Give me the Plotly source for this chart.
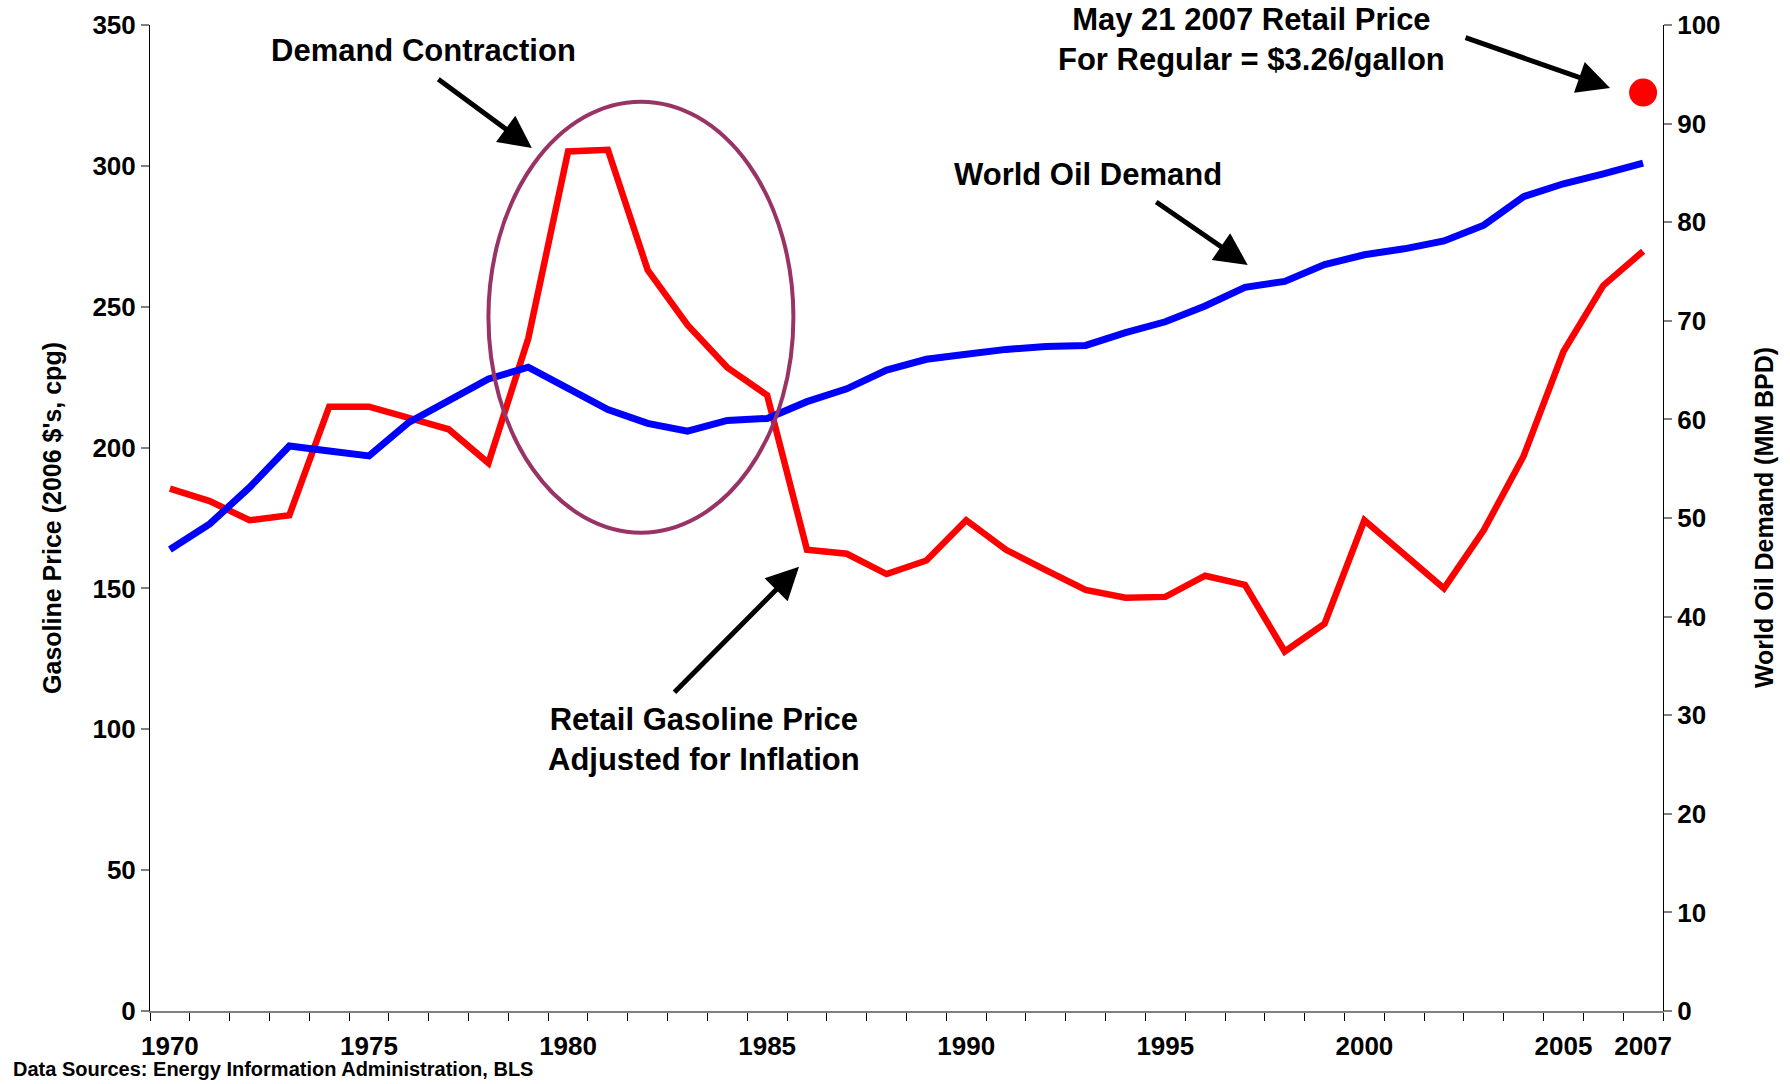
import plotly.graph_objects as go

years = list(range(1970, 2008))

gas_price = [185.4, 181.0, 174.2, 176.0, 214.5, 214.5, 210.5, 206.5, 194.5, 238.7,
             305.1, 305.7, 263.0, 243.5, 228.4, 218.6, 163.7, 162.3, 155.1, 159.9,
             174.2, 163.7, 156.5, 149.5, 146.7, 147.0, 154.5, 151.3, 127.6, 137.5,
             174.2, 162.3, 150.0, 170.7, 197.0, 234.1, 257.5, 269.7]

oil_demand = [46.8, 49.4, 53.1, 57.3, 56.8, 56.3, 59.7, 61.9, 64.1, 65.3,
              63.1, 61.0, 59.6, 58.8, 59.9, 60.1, 61.8, 63.1, 65.0, 66.1,
              66.6, 67.1, 67.4, 67.5, 68.8, 69.9, 71.5, 73.4, 74.0, 75.7,
              76.7, 77.3, 78.1, 79.7, 82.6, 83.9, 84.9, 86.0]

may2007_year = [2007]
may2007_price = [326]

label_years = [1970, 1975, 1980, 1985, 1990, 1995, 2000, 2005, 2007]
label_text = [str(y) for y in label_years]

left_ticks = [0, 50, 100, 150, 200, 250, 300, 350]
right_ticks = [0, 10, 20, 30, 40, 50, 60, 70, 80, 90, 100]

FONT = "Liberation Sans, Arial, sans-serif"

fig = go.Figure()

fig.add_trace(go.Scatter(x=years, y=gas_price, mode="lines",
                         line=dict(color="#FF0000", width=6.5), yaxis="y",
                         showlegend=False, hoverinfo="skip"))
fig.add_trace(go.Scatter(x=years, y=oil_demand, mode="lines",
                         line=dict(color="#0000FF", width=7), yaxis="y2",
                         showlegend=False, hoverinfo="skip"))
fig.add_trace(go.Scatter(x=may2007_year, y=may2007_price, mode="markers",
                         marker=dict(color="#FF0000", size=28), yaxis="y",
                         showlegend=False, hoverinfo="skip"))

boundaries = [y - 0.5 for y in years] + [years[-1] + 0.5]

fig.update_layout(
    width=1790, height=1084,
    margin=dict(l=150, r=127, t=25, b=73, autoexpand=False),
    paper_bgcolor="white", plot_bgcolor="white",
    font=dict(family=FONT, color="black"),
    xaxis=dict(
        range=[years[0] - 0.5, years[-1] + 0.5], automargin=False,
        tickmode="array", tickvals=label_years, ticktext=label_text,
        ticks="", showgrid=False, zeroline=False,
        showline=True, linecolor="#808080", linewidth=2,
        tickfont=dict(family=FONT, size=26, weight="bold", color="black"),
        ticklabelstandoff=11,
        minor=dict(tickmode="array", tickvals=boundaries, ticks="outside",
                   ticklen=8, tickcolor="black", tickwidth=1, showgrid=False),
    ),
    yaxis=dict(
        range=[0, 350], tickmode="array", tickvals=left_ticks, automargin=False,
        ticks="outside", ticklen=8, tickcolor="#808080", tickwidth=2,
        showgrid=False, zeroline=False,
        showline=True, linecolor="black", linewidth=1,
        tickfont=dict(family=FONT, size=26, weight="bold", color="black"),
    ),
    yaxis2=dict(
        range=[0, 100], tickmode="array", tickvals=right_ticks, automargin=False,
        overlaying="y", side="right",
        ticks="outside", ticklen=8, tickcolor="#808080", tickwidth=2,
        showgrid=False, zeroline=False,
        showline=True, linecolor="black", linewidth=1,
        tickfont=dict(family=FONT, size=26, weight="bold", color="black"),
    ),
)

# ellipse highlighting demand contraction
fig.add_shape(type="circle", xref="x", yref="y",
              x0=1978.0, x1=1985.66, y0=169.8, y1=322.8,
              line=dict(color="#993366", width=4), layer="above")

ann_font = dict(family=FONT, size=31, weight="bold", color="black")

# texts
fig.add_annotation(x=1976.37, y=341.1, xref="x", yref="y", text="Demand Contraction",
                   showarrow=False, font=ann_font, xanchor="center", yanchor="middle")
fig.add_annotation(x=1993.06, y=296.8, xref="x", yref="y", text="World Oil Demand",
                   showarrow=False, font=ann_font, xanchor="center", yanchor="middle")
fig.add_annotation(x=1983.41, y=96.4, xref="x", yref="y",
                   text="Retail Gasoline Price<br>Adjusted for Inflation",
                   showarrow=False, font=ann_font, xanchor="center", yanchor="middle")
fig.add_annotation(x=1997.17, y=344.7, xref="x", yref="y",
                   text="May 21 2007 Retail Price<br>For Regular = $3.26/gallon",
                   showarrow=False, font=ann_font, xanchor="center", yanchor="middle")

# arrows
arrows = [
    (1979.09, 306.3, -95, -70),
    (1997.07, 264.8, -93, -64),
    (1985.80, 157.7, -126, 127),
    (2006.17, 327.6, -146, -51),
]
for hx, hy, ax, ay in arrows:
    fig.add_annotation(x=hx, y=hy, xref="x", yref="y", text="", showarrow=True,
                       ax=ax, ay=ay, arrowhead=2, arrowsize=1.3, arrowwidth=5,
                       arrowcolor="black", standoff=0)

# axis titles
fig.add_annotation(x=-0.0648, y=0.5, xref="paper", yref="paper",
                   text="Gasoline Price (2006 $'s, cpg)", textangle=-90,
                   showarrow=False, xanchor="center", yanchor="middle",
                   font=dict(family=FONT, size=25, weight="bold", color="black"))
fig.add_annotation(x=1.0668, y=0.5, xref="paper", yref="paper",
                   text="World Oil Demand (MM BPD)", textangle=-90,
                   showarrow=False, xanchor="center", yanchor="middle",
                   font=dict(family=FONT, size=25, weight="bold", color="black"))

# source note
fig.add_annotation(x=-0.0919, y=-0.0725, xref="paper", yref="paper",
                   text="Data Sources: Energy Information Administration, BLS",
                   showarrow=False, xanchor="left", yanchor="bottom",
                   font=dict(family=FONT, size=20, weight="bold", color="black"))

fig.write_html("out.html", config={"displayModeBar": False},
               post_script="document.body.style.margin='0px';document.body.style.overflow='hidden';")
